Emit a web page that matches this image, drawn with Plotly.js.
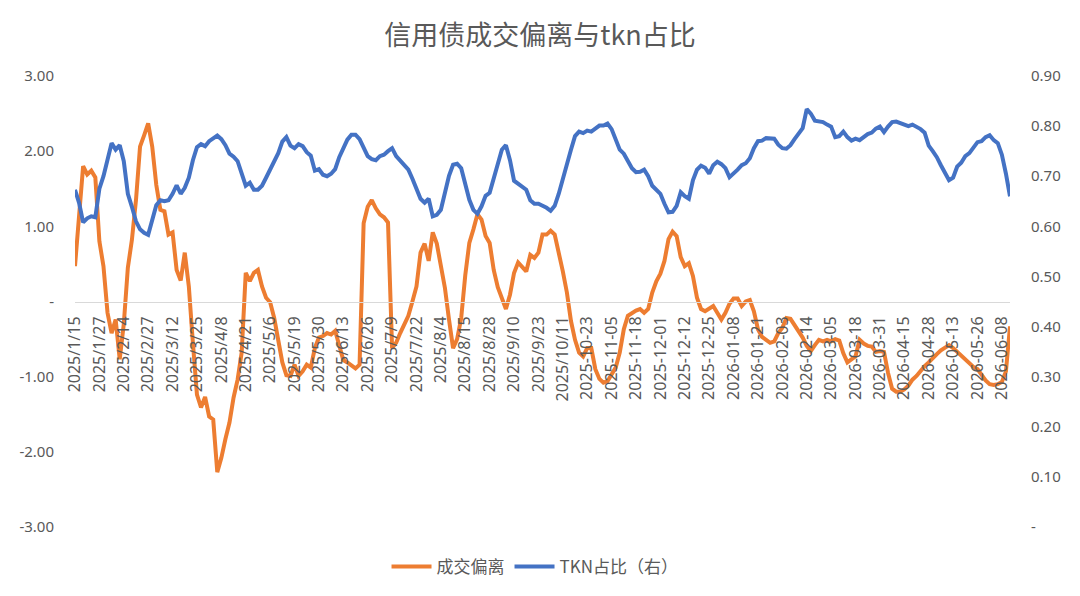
<!DOCTYPE html>
<html>
<head>
<meta charset="utf-8">
<script src="https://cdn.plot.ly/plotly-3.0.1.min.js"></script>
<style>html,body{margin:0;padding:0;background:#fff;}#chart{width:1080px;height:596px;}</style>
</head>
<body>
<div id="chart"></div>
<script>
// Tick labels (one every 6 samples; samples are every 1.5 trading days)
const tickLabels = ['2025/1/15','2025/1/27','2025/2/14','2025/2/27','2025/3/12','2025/3/25','2025/4/8','2025/4/21','2025/5/6','2025/5/19','2025/5/30','2025/6/13','2025/6/26','2025/7/9','2025/7/22','2025/8/4','2025/8/15','2025/8/28','2025/9/10','2025/9/23','2025/10/11','2025-10-23','2025-11-05','2025-11-18','2025-12-01','2025-12-12','2025-12-25','2026-01-08','2026-01-21','2026-02-03','2026-02-14','2026-03-05','2026-03-18','2026-03-31','2026-04-15','2026-04-28','2026-05-13','2026-05-26','2026-06-08'];
const labelStep = 6;

// 成交偏离 (left axis)
const deviation = [
 0.47, 1.17, 1.80, 1.69, 1.74, 1.65, 0.80, 0.47, -0.15, -0.42,
 -0.24, -0.77, -0.30, 0.45, 0.82, 1.35, 2.06, 2.21, 2.37, 2.06,
 1.55, 1.22, 1.20, 0.89, 0.92, 0.42, 0.28, 0.65, 0.20, -0.55,
 -1.24, -1.41, -1.27, -1.53, -1.57, -2.27, -2.08, -1.83, -1.61, -1.28,
 -1.04, -0.68, 0.38, 0.27, 0.38, 0.42, 0.20, 0.05, -0.01, -0.22,
 -0.55, -0.81, -0.98, -0.99, -0.84, -0.99, -0.93, -0.84, -0.88, -0.62,
 -0.48, -0.46, -0.42, -0.44, -0.39, -0.57, -0.78, -0.81, -0.85, -0.89,
 -0.84, 1.04, 1.26, 1.35, 1.24, 1.16, 1.12, 1.05, -0.62, -0.55,
 -0.42, -0.31, -0.19, 0.00, 0.20, 0.65, 0.77, 0.54, 0.92, 0.77,
 0.49, 0.18, -0.24, -0.62, -0.50, -0.22, 0.35, 0.78, 0.96, 1.16,
 1.09, 0.87, 0.78, 0.42, 0.19, 0.03, -0.10, 0.09, 0.38, 0.52,
 0.45, 0.40, 0.62, 0.58, 0.65, 0.89, 0.89, 0.94, 0.89, 0.67,
 0.40, 0.12, -0.26, -0.51, -0.68, -0.73, -0.62, -0.62, -0.90, -1.03,
 -1.08, -1.06, -0.97, -0.88, -0.68, -0.37, -0.19, -0.15, -0.12, -0.10,
 -0.15, -0.10, 0.12, 0.27, 0.37, 0.54, 0.83, 0.93, 0.87, 0.59,
 0.47, 0.51, 0.34, 0.05, -0.10, -0.13, -0.09, -0.06, -0.15, -0.24,
 -0.15, -0.03, 0.04, 0.04, -0.06, 0.00, 0.02, -0.13, -0.37, -0.47,
 -0.51, -0.55, -0.53, -0.42, -0.35, -0.22, -0.23, -0.31, -0.38, -0.48,
 -0.59, -0.66, -0.58, -0.51, -0.53, -0.51, -0.53, -0.50, -0.52, -0.69,
 -0.81, -0.77, -0.73, -0.51, -0.56, -0.59, -0.60, -0.67, -0.66, -0.67,
 -0.95, -1.16, -1.20, -1.20, -1.17, -1.12, -1.04, -0.99, -0.92, -0.86,
 -0.81, -0.75, -0.70, -0.65, -0.62, -0.58, -0.62, -0.67, -0.72, -0.77,
 -0.81, -0.87, -0.90, -0.98, -1.05, -1.10, -1.11, -1.10, -1.07, -0.93,
 -0.33
];

// TKN占比 (right axis)
const tknShare = [
 0.673, 0.647, 0.608, 0.616, 0.620, 0.618, 0.675, 0.700, 0.733, 0.766,
 0.753, 0.762, 0.730, 0.665, 0.639, 0.610, 0.594, 0.587, 0.583, 0.612,
 0.642, 0.652, 0.650, 0.652, 0.665, 0.682, 0.665, 0.677, 0.697, 0.732,
 0.758, 0.764, 0.760, 0.770, 0.776, 0.781, 0.774, 0.762, 0.745, 0.739,
 0.730, 0.707, 0.681, 0.687, 0.673, 0.673, 0.681, 0.697, 0.712, 0.727,
 0.746, 0.769, 0.778, 0.761, 0.756, 0.764, 0.760, 0.748, 0.741, 0.711,
 0.714, 0.703, 0.700, 0.705, 0.714, 0.738, 0.756, 0.773, 0.783, 0.783,
 0.774, 0.756, 0.740, 0.734, 0.732, 0.740, 0.743, 0.750, 0.756, 0.740,
 0.730, 0.721, 0.713, 0.695, 0.675, 0.655, 0.647, 0.655, 0.620, 0.623,
 0.633, 0.667, 0.701, 0.723, 0.725, 0.716, 0.687, 0.653, 0.633, 0.625,
 0.640, 0.661, 0.667, 0.695, 0.725, 0.753, 0.762, 0.732, 0.691, 0.685,
 0.679, 0.673, 0.652, 0.645, 0.645, 0.642, 0.637, 0.631, 0.641, 0.665,
 0.695, 0.728, 0.753, 0.780, 0.789, 0.786, 0.791, 0.789, 0.796, 0.801,
 0.801, 0.805, 0.794, 0.772, 0.753, 0.745, 0.730, 0.716, 0.708, 0.709,
 0.713, 0.700, 0.681, 0.673, 0.665, 0.645, 0.628, 0.629, 0.641, 0.668,
 0.660, 0.655, 0.692, 0.713, 0.721, 0.717, 0.705, 0.722, 0.729, 0.724,
 0.716, 0.698, 0.705, 0.713, 0.722, 0.726, 0.736, 0.756, 0.770, 0.771,
 0.776, 0.776, 0.775, 0.763, 0.756, 0.755, 0.762, 0.774, 0.785, 0.796,
 0.834, 0.825, 0.811, 0.809, 0.808, 0.803, 0.799, 0.778, 0.780, 0.789,
 0.778, 0.771, 0.775, 0.772, 0.778, 0.784, 0.787, 0.795, 0.799, 0.788,
 0.799, 0.808, 0.809, 0.806, 0.801, 0.800, 0.803, 0.799, 0.794, 0.787,
 0.761, 0.750, 0.738, 0.722, 0.705, 0.692, 0.697, 0.719, 0.727, 0.740,
 0.746, 0.757, 0.768, 0.770, 0.778, 0.782, 0.772, 0.766, 0.743, 0.705,
 0.660
];

const leftTicks = [-3, -2, -1, 0, 1, 2, 3];
const leftTickText = ['-3.00', '-2.00', '-1.00', '-', '1.00', '2.00', '3.00'];
const rightTicks = [0, 0.1, 0.2, 0.3, 0.4, 0.5, 0.6, 0.7, 0.8, 0.9];
const rightTickText = ['-', '0.10', '0.20', '0.30', '0.40', '0.50', '0.60', '0.70', '0.80', '0.90'];

const idx = deviation.map((_, i) => i);
const tickVals = tickLabels.map((_, k) => k * labelStep);

const FONT = '"Noto Sans", "Noto Sans CJK SC", sans-serif';
const GREY = '#595959';

const traces = [
  {
    x: idx, y: deviation, name: '成交偏离', type: 'scatter', mode: 'lines',
    line: {color: '#ED7D31', width: 4}, yaxis: 'y'
  },
  {
    x: idx, y: tknShare, name: 'TKN占比（右）', type: 'scatter', mode: 'lines',
    line: {color: '#4472C4', width: 4}, yaxis: 'y2'
  }
];

const layout = {
  width: 1080, height: 596,
  margin: {l: 75, r: 70, t: 76, b: 68},
  paper_bgcolor: '#ffffff', plot_bgcolor: '#ffffff',
  font: {family: FONT, color: GREY, size: 15},
  showlegend: true,
  title: {
    text: '信用债成交偏离与tkn占比',
    font: {family: '"Noto Sans CJK SC", sans-serif', size: 27, color: GREY},
    x: 0.5, xanchor: 'center', y: 0.941, yanchor: 'middle'
  },
  xaxis: {
    range: [0, deviation.length - 1],
    anchor: 'free', position: 0.5,
    tickmode: 'array', tickvals: tickVals, ticktext: tickLabels,
    tickangle: -90, ticks: '', ticklabelstandoff: 7,
    tickfont: {size: 16, color: GREY},
    showline: true, linecolor: '#d9d9d9', linewidth: 1.5,
    showgrid: false, zeroline: false, fixedrange: true
  },
  yaxis: {
    range: [-3, 3],
    tickmode: 'array', tickvals: leftTicks, ticktext: leftTickText,
    ticks: '', ticklabelstandoff: 20,
    tickfont: {size: 15, color: GREY},
    showgrid: false, zeroline: false, showline: false, fixedrange: true
  },
  yaxis2: {
    range: [0, 0.9], overlaying: 'y', side: 'right',
    tickmode: 'array', tickvals: rightTicks, ticktext: rightTickText,
    ticks: '', ticklabelstandoff: 20,
    tickfont: {size: 15, color: GREY},
    showgrid: false, zeroline: false, showline: false, fixedrange: true
  },
  legend: {
    orientation: 'h', x: 0.492, xanchor: 'center', y: -0.086, yanchor: 'middle',
    font: {family: '"Noto Sans CJK SC", sans-serif', size: 17, color: GREY},
    itemwidth: 40, tracegroupgap: 0
  },
  hovermode: false
};

Plotly.newPlot('chart', traces, layout, {displayModeBar: false, staticPlot: true});
</script>
</body>
</html>
